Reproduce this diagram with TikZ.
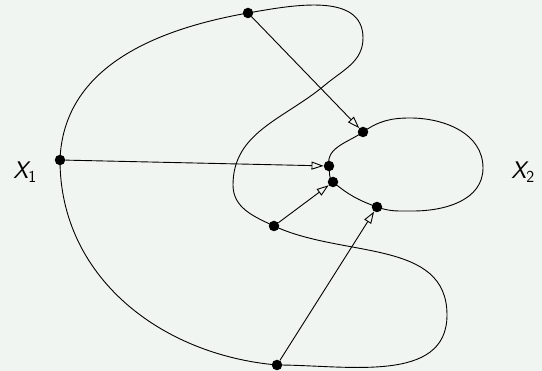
\documentclass[tikz,border=0pt]{standalone}
\usetikzlibrary{arrows.meta}
\definecolor{bgc}{RGB}{240,245,241}
\begin{document}
\begin{tikzpicture}[x=1pt,y=1pt,
  dot/.style={circle,fill=black,inner sep=0pt,minimum size=10.5pt},
  curve/.style={line width=0.9pt},
  arr/.style={line width=0.9pt,-{Triangle[open,length=12pt,width=8pt]}},
  lab/.style={font=\fontsize{24}{28}\selectfont\sffamily}]
\fill[bgc] (0,0) rectangle (542,371);
\useasboundingbox (0,0) rectangle (542,371);
% outer curve X1
\draw[curve] (60,211) to[out=88,in=190] (248,358)
  to[out=10,in=90] (363,333)
  to[out=-90,in=40] (325,286)
  to[out=-140,in=90] (233,186)
  to[out=-90,in=155] (274,145)
  to[out=-25,in=90] (447,56)
  to[out=-90,in=0] (277,6)
  to[out=175,in=-90] (60,211);
% inner curve X2
\draw[curve] (363,239) to[out=35,in=180] (410,253)
  to[out=0,in=90] (483,203)
  to[out=-90,in=0] (413,160)
  to[out=180,in=-20] (377,164)
  to[out=160,in=-40] (333,189)
  to[out=140,in=-80] (329,205)
  to[out=100,in=215] (363,239);
% points
\node[dot] (a) at (248,358) {};
\node[dot] (b) at (60,211) {};
\node[dot] (c) at (277,6) {};
\node[dot] (d) at (274,145) {};
\node[dot] (e) at (363,239) {};
\node[dot] (f) at (329,205) {};
\node[dot] (g) at (333,189) {};
\node[dot] (h) at (377,164) {};
% arrows
\draw[arr] (a) -- (e);
\draw[arr] (b) -- (f);
\draw[arr] (d) -- (g);
\draw[arr] (c) -- (h);
% labels
\node[lab] (x1) at (25,199) {{\slshape X}\textsubscript{1}};
\node[lab] (x2) at (523,199) {{\slshape X}\textsubscript{2}};
\end{tikzpicture}
\end{document}
